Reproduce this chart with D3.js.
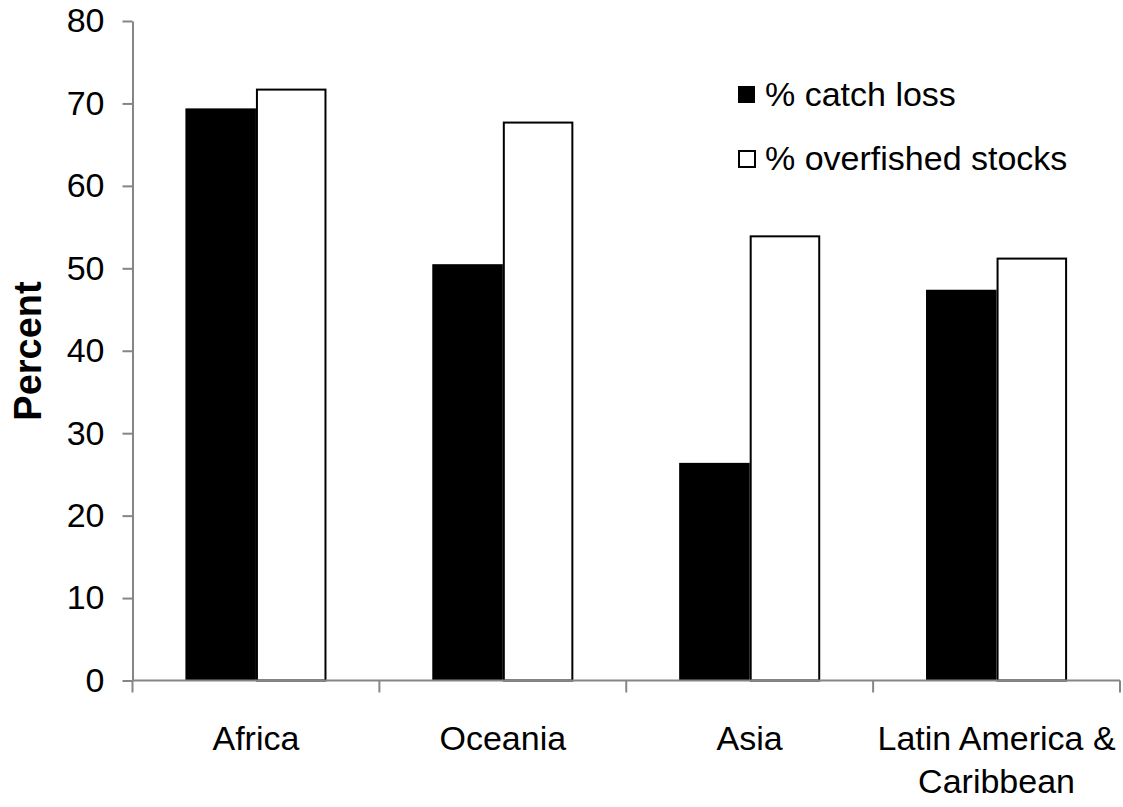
<!DOCTYPE html>
<html>
<head>
<meta charset="utf-8">
<script src="https://cdn.jsdelivr.net/npm/d3@7"></script>
<style>
  html, body { margin: 0; padding: 0; background: #fff; }
  svg { display: block; }
  text { font-family: "Liberation Sans", Arial, sans-serif; fill: #000; }
</style>
</head>
<body>
<svg id="chart" width="1123" height="807"></svg>
<script>
// Regional fisheries: share of catch lost vs share of stocks overfished
const regions = ["Africa", "Oceania", "Asia", "Latin America & Caribbean"];
const catchLoss = [69.4, 50.5, 26.4, 47.4];
const overfished = [71.8, 67.8, 54.0, 51.3];
const seriesNames = ["% catch loss", "% overfished stocks"];
const yTicks = [0, 10, 20, 30, 40, 50, 60, 70, 80];

const svg = d3.select("#chart");
const margin = { left: 132.5, right: 3, top: 21, bottom: 126.5 };
const W = 1123, H = 807;
const axisColor = "#868686";

const x0 = d3.scaleBand()
  .domain(regions)
  .range([margin.left, W - margin.right])
  .paddingInner(1.5 / 3.5)
  .paddingOuter(0.75 / 3.5);

const x1 = d3.scaleBand()
  .domain([0, 1])
  .range([0, x0.bandwidth()]);

const y = d3.scaleLinear()
  .domain([0, 80])
  .range([H - margin.bottom, margin.top]);

// Bars
const rows = regions.map((r, i) => ({ region: r, values: [catchLoss[i], overfished[i]] }));
const groups = svg.append("g").selectAll("g")
  .data(rows).join("g")
  .attr("transform", d => `translate(${x0(d.region)},0)`);

groups.selectAll("rect")
  .data(d => d.values.map((v, k) => ({ v, k })))
  .join("rect")
  .attr("x", d => x1(d.k) + (d.k === 1 ? 1 : 0))
  .attr("y", d => y(d.v) + (d.k === 1 ? 1 : 0))
  .attr("width", d => x1.bandwidth() - (d.k === 1 ? 2 : 0))
  .attr("height", d => y(0) - y(d.v) - (d.k === 1 ? 1 : 0))
  .attr("fill", d => d.k === 0 ? "#000" : "#fff")
  .attr("stroke", d => d.k === 0 ? "none" : "#000")
  .attr("stroke-width", 2);

// Y axis
const yAxis = svg.append("g")
  .attr("transform", `translate(${margin.left},0)`)
  .call(d3.axisLeft(y).tickValues(yTicks).tickSize(10).tickSizeOuter(0).tickPadding(18));
yAxis.select(".domain").attr("stroke", axisColor).attr("stroke-width", 2);
yAxis.selectAll(".tick line").attr("stroke", axisColor).attr("stroke-width", 2);
yAxis.selectAll(".tick text")
  .attr("font-size", 34)
  .attr("font-family", "'Liberation Sans', Arial, sans-serif")
  .attr("fill", "#000");

// X axis with ticks at category boundaries
const xBase = svg.append("g");
xBase.append("line")
  .attr("x1", margin.left).attr("x2", W - margin.right)
  .attr("y1", y(0)).attr("y2", y(0))
  .attr("stroke", axisColor).attr("stroke-width", 2);
const bounds = regions.map(r => x0(r) - x0.step() * x0.paddingOuter())
  .concat([W - margin.right]);
xBase.selectAll("line.tk")
  .data(bounds).join("line")
  .attr("class", "tk")
  .attr("x1", d => d).attr("x2", d => d)
  .attr("y1", y(0)).attr("y2", y(0) + 12)
  .attr("stroke", axisColor).attr("stroke-width", 2);

// Category labels
const catLines = { "Latin America & Caribbean": ["Latin America &", "Caribbean"] };
svg.append("g").selectAll("text")
  .data(regions).join("text")
  .attr("x", d => x0(d) + x0.bandwidth() / 2)
  .attr("y", 750)
  .attr("text-anchor", "middle")
  .attr("font-size", 34)
  .each(function (d) {
    const lines = catLines[d] || [d];
    d3.select(this).selectAll("tspan")
      .data(lines).join("tspan")
      .attr("x", x0(d) + x0.bandwidth() / 2)
      .attr("dy", (l, i) => i === 0 ? 0 : 43)
      .text(l => l);
  });

// Y axis title
svg.append("text")
  .attr("transform", "translate(41,351) rotate(-90)")
  .attr("text-anchor", "middle")
  .attr("font-size", 38)
  .attr("font-weight", "bold")
  .attr("font-family", "'Liberation Sans', Arial, sans-serif")
  .text("Percent");

// Legend
const legend = svg.append("g").attr("transform", "translate(738,0)");
const legendY = [94, 158];
seriesNames.forEach((name, k) => {
  legend.append("rect")
    .attr("x", k === 0 ? 0 : 1)
    .attr("y", legendY[k] - 8 + (k === 0 ? 0 : 1))
    .attr("width", k === 0 ? 17 : 16)
    .attr("height", k === 0 ? 17 : 16)
    .attr("fill", k === 0 ? "#000" : "#fff")
    .attr("stroke", k === 0 ? "none" : "#000")
    .attr("stroke-width", 2);
  legend.append("text")
    .attr("x", 27)
    .attr("y", legendY[k] + 12)
    .attr("font-size", 34)
    .text(name);
});
</script>
</body>
</html>
